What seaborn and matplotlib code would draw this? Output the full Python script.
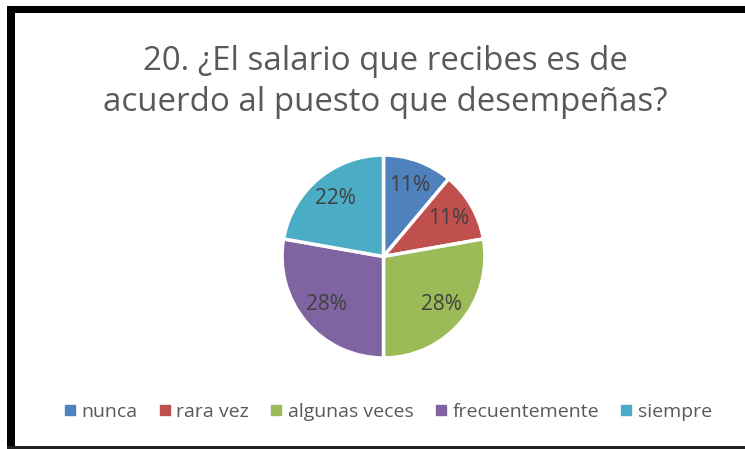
import matplotlib
matplotlib.use("Agg")
import matplotlib.pyplot as plt
import seaborn as sns
from matplotlib.patches import Rectangle
from matplotlib.lines import Line2D

# Data (counts out of 18 respondents)
categories = ["nunca", "rara vez", "algunas veces", "frecuentemente", "siempre"]
counts = [2, 2, 5, 5, 4]
colors = ["#4F81BD", "#C0504D", "#9BBB59", "#8064A2", "#4BACC6"]
title = "20. ¿El salario que recibes es de\nacuerdo al puesto que desempeñas?"

sns.set_theme(style="white")
plt.rcParams["font.family"] = ["Open Sans", "DejaVu Sans"]

W, H = 745, 449
fig = plt.figure(figsize=(W / 100, H / 100), dpi=100)
fig.patch.set_facecolor("white")

# frame like the Excel chart border
fig.patches.append(Rectangle((7 / W, 1 - 13 / H), 1, 7 / H, transform=fig.transFigure,
                             color="black", lw=0))
fig.patches.append(Rectangle((7 / W, 0), 8 / W, 1 - 6 / H, transform=fig.transFigure,
                             color="black", lw=0))
fig.patches.append(Rectangle((7 / W, 0), 1, 3 / H, transform=fig.transFigure,
                             color="#222222", lw=0))

fig.text(385 / W, 1 - 82 / H, title, ha="center", va="center", fontsize=23.8,
         color="#595959", linespacing=1.33)

ax = fig.add_axes([280 / W, 1 - 360 / H, 207 / W, 207 / H])
wedges, texts, autotexts = ax.pie(
    counts, colors=colors, startangle=90, counterclock=False,
    autopct=lambda p: f"{p:.0f}%", pctdistance=0.74,
    wedgeprops=dict(edgecolor="white", linewidth=2.5),
    textprops=dict(color="#404040", fontsize=15))
ax.set_xlim(-1.02, 1.02)
ax.set_ylim(-1.02, 1.02)
ax.set_aspect("equal")
ax.axis("off")

handles = [Line2D([0], [0], marker="s", linestyle="", markersize=6.5,
                  markerfacecolor=c, markeredgecolor=c) for c in colors]
fig.legend(handles, categories, loc="center", bbox_to_anchor=(388 / W, 1 - 412 / H),
           ncol=5, frameon=False, fontsize=14, handlelength=0.6, handletextpad=0.3,
           columnspacing=1.1, labelcolor="#595959")

fig.savefig("out.png", dpi=100)
